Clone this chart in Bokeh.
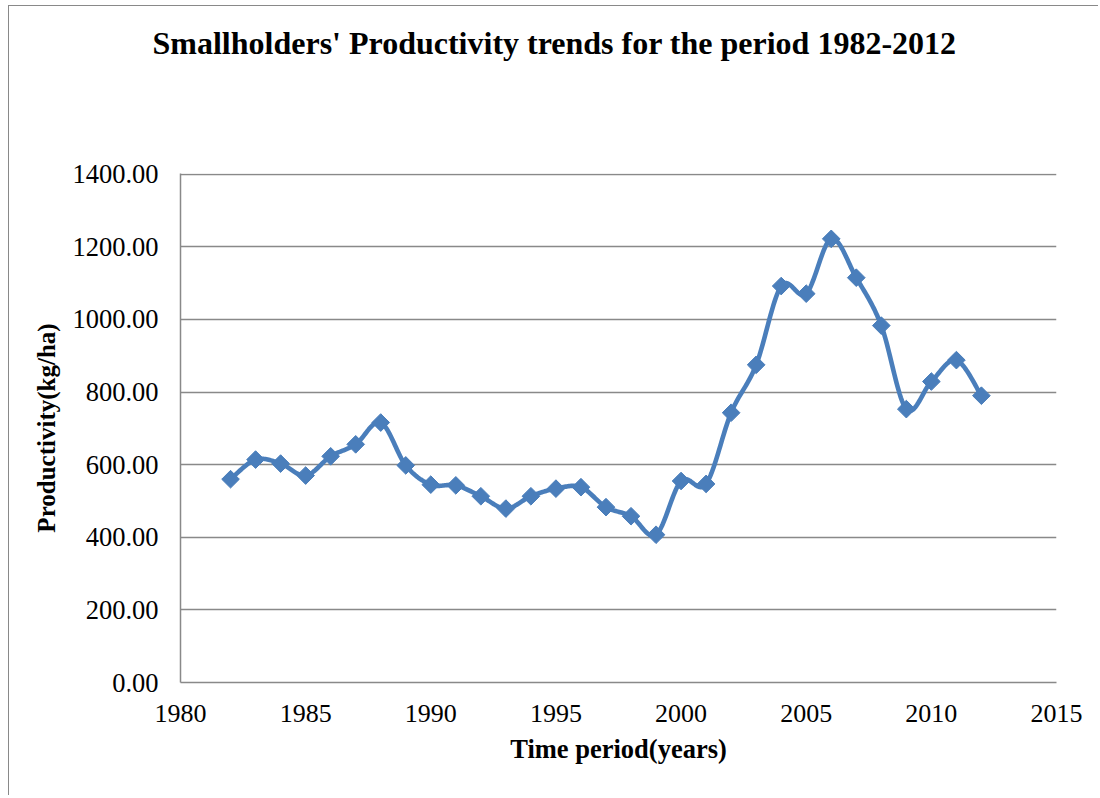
import numpy as np
from bokeh.plotting import figure
from bokeh.models import Range1d, FixedTicker, NumeralTickFormatter, ColumnDataSource, Title
from bokeh.embed import file_html
from bokeh.resources import INLINE

# Smallholders' productivity (kg/ha), 1982-2012
years = list(range(1982, 2013))
productivity = [560, 614, 603, 570, 623, 656, 716, 598, 545, 543,
                513, 479, 513, 534, 538, 483, 458, 407, 555, 547,
                743, 875, 1092, 1071, 1222, 1115, 983, 753, 829, 888, 790]
x_ticks = [1980, 1985, 1990, 1995, 2000, 2005, 2010, 2015]
y_ticks = [0, 200, 400, 600, 800, 1000, 1200, 1400]

title_text = "Smallholders' Productivity trends for the period 1982-2012"
x_label = "Time period(years)"
y_label = "Productivity(kg/ha)"

SERIF = "Liberation Serif"
BLUE = "#4a7ebb"
GREY = "#898989"


def smooth_curve(xs, ys, steps=24):
    """Catmull-Rom spline through the points, sampled as cubic Beziers."""
    px = np.asarray(xs, dtype=float)
    py = np.asarray(ys, dtype=float)
    n = len(px)
    out_x, out_y = [], []
    t = np.linspace(0.0, 1.0, steps)
    for i in range(n - 1):
        i0 = max(i - 1, 0)
        i3 = min(i + 2, n - 1)
        p0x, p0y = px[i], py[i]
        p3x, p3y = px[i + 1], py[i + 1]
        c1x = p0x + (px[i + 1] - px[i0]) / 6.0
        c1y = p0y + (py[i + 1] - py[i0]) / 6.0
        c2x = p3x - (px[i3] - px[i]) / 6.0
        c2y = p3y - (py[i3] - py[i]) / 6.0
        seg = t if i == 0 else t[1:]
        a = (1 - seg) ** 3
        b = 3 * (1 - seg) ** 2 * seg
        c = 3 * (1 - seg) * seg ** 2
        d = seg ** 3
        out_x.extend(a * p0x + b * c1x + c * c2x + d * p3x)
        out_y.extend(a * p0y + b * c1y + c * c2y + d * p3y)
    return out_x, out_y


W, H = 1090, 790
p = figure(
    width=W, height=H,
    output_backend="svg", toolbar_location=None,
    x_range=Range1d(1980, 2015), y_range=Range1d(0, 1402),
    min_border_left=171, min_border_right=W - 1047,
    min_border_top=10, min_border_bottom=H - 676,
)
p.styles = {
    "margin-left": "8px", "margin-top": "5px",
    "border-left": f"1.5px solid {GREY}", "border-top": f"1.5px solid {GREY}",
}
p.outline_line_color = None
p.background_fill_color = "white"
p.border_fill_color = "white"

# blank band between the plotting area and the chart title
p.add_layout(Title(text=" ", text_font_size="1px", standoff=94), "above")

# chart title (outermost in the top panel)
p.title = Title(text=title_text, text_font=SERIF, text_font_style="bold",
                text_font_size="32px", text_color="black",
                align="left", offset=-28, standoff=32)

# axes
p.xaxis.ticker = FixedTicker(ticks=x_ticks)
p.yaxis.ticker = FixedTicker(ticks=y_ticks)
p.yaxis.formatter = NumeralTickFormatter(format="0.00")
for ax in (p.xaxis, p.yaxis):
    ax.axis_line_color = GREY
    ax.axis_line_width = 1.5
    ax.major_tick_line_color = None
    ax.minor_tick_line_color = None
    ax.major_tick_out = 0
    ax.major_tick_in = 0
    ax.major_label_text_font = SERIF
    ax.major_label_text_font_size = "26px"
    ax.major_label_text_color = "black"
    ax.axis_label_text_font = SERIF
    ax.axis_label_text_font_style = "bold"
    ax.axis_label_text_color = "black"
p.yaxis.major_label_text_font_size = "26.5px"
p.xaxis.axis_label_text_font_size = "26.5px"
p.yaxis.axis_label_text_font_size = "25px"
p.xaxis.axis_label = x_label
p.yaxis.axis_label = y_label
p.xaxis.major_label_standoff = 22
p.yaxis.major_label_standoff = 22
p.xaxis.axis_label_standoff = 9
p.yaxis.axis_label_standoff = 9

# grid
p.xgrid.grid_line_color = None
p.ygrid.ticker = FixedTicker(ticks=y_ticks)
p.ygrid.grid_line_color = GREY
p.ygrid.grid_line_width = 1.5

# smoothed series line and diamond markers
sx, sy = smooth_curve(years, productivity)
p.line(sx, sy, line_color=BLUE, line_width=4.6, line_join="round", line_cap="round")
src = ColumnDataSource(dict(x=years, y=productivity))
p.scatter("x", "y", source=src, marker="square", size=12.5, angle=np.pi / 4,
          fill_color=BLUE, line_color=BLUE, line_width=1)

open("out.html", "w").write(file_html(p, INLINE))
